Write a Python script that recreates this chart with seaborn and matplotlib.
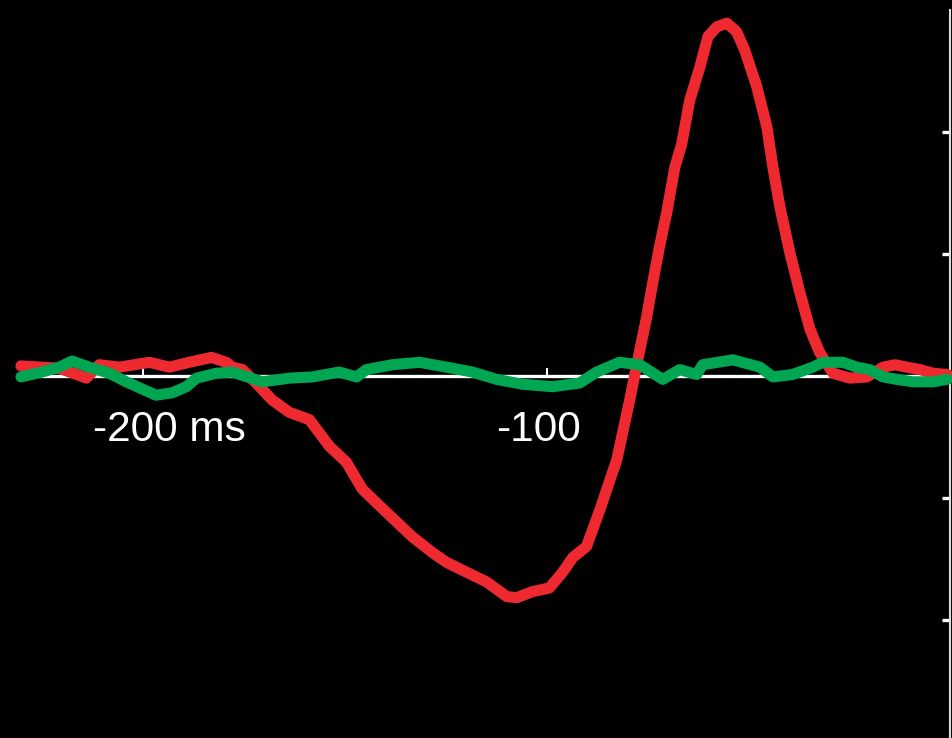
import matplotlib
matplotlib.use("Agg")
import matplotlib.pyplot as plt
import matplotlib.transforms as mtransforms
import numpy as np
import pandas as pd
import seaborn as sns

# ---- data ----
red_t = [-230.3, -225.1, -220.8, -216.5, -214.1, -210.9, -205.9, -198.5, -193.5, -188.6,
         -183.1, -179.4, -177.9, -175.4, -172.0, -168.0, -163.8, -158.8, -153.8, -149.6,
         -145.7, -139.7, -133.3, -128.3, -124.8, -119.9, -114.9, -109.9, -107.4, -103.5,
         -99.3, -96.0, -93.5, -90.1, -86.8, -82.6, -79.4, -77.4, -75.2, -73.7,
         -72.0, -70.2, -68.2, -66.5, -64.5, -62.0, -60.0, -57.8, -55.3,
         -52.9, -50.9, -47.9, -45.4, -43.9, -42.2, -39.7, -37.2, -34.7, -32.3,
         -29.0, -24.8, -20.6, -16.6, -13.6, -10.7, -7.4, -4.2, -0.7]
red_v = [0.08, 0.07, 0.06, 0.01, -0.02, 0.09, 0.07, 0.11, 0.07, 0.11,
         0.15, 0.11, 0.07, 0.05, -0.06, -0.20, -0.30, -0.36, -0.58, -0.71,
         -0.93, -1.12, -1.32, -1.45, -1.53, -1.61, -1.69, -1.81, -1.82, -1.77,
         -1.74, -1.61, -1.49, -1.40, -1.10, -0.69, -0.20, 0.13, 0.48, 0.76,
         1.06, 1.34, 1.71, 1.90, 2.26, 2.53, 2.78, 2.86, 2.89,
         2.82, 2.67, 2.37, 2.04, 1.71, 1.39, 1.01, 0.68, 0.38, 0.19,
         0.02, -0.02, -0.01, 0.07, 0.09, 0.07, 0.05, 0.02, 0.01]

green_t = [-230.3, -225.1, -220.8, -217.6, -213.4, -208.4, -204.2, -200.2, -196.8, -192.8,
           -189.3, -186.8, -181.9, -177.9, -170.5, -163.8, -158.1, -151.4, -147.1, -144.7,
           -138.2, -131.5, -124.8, -118.4, -112.4, -106.0, -98.5, -91.8, -87.6, -81.9,
           -76.9, -71.2, -67.0, -62.8, -61.3, -53.8, -47.1, -43.9, -39.0, -34.0,
           -31.5, -26.6, -23.1, -19.9, -16.6, -13.2, -9.2, -4.2, -0.7]
green_v = [-0.01, 0.03, 0.07, 0.12, 0.07, 0.02, -0.05, -0.11, -0.16, -0.14,
           -0.09, -0.02, 0.02, 0.03, -0.05, -0.02, -0.01, 0.03, -0.01, 0.05,
           0.09, 0.11, 0.07, 0.03, -0.03, -0.07, -0.09, -0.06, 0.03, 0.11,
           0.09, -0.03, 0.05, 0.01, 0.09, 0.13, 0.07, -0.01, 0.01, 0.07,
           0.11, 0.11, 0.07, 0.05, -0.01, -0.03, -0.05, -0.05, -0.03]

xtick_vals = [-200, -100]
xtick_labels = ["-200 ms", "-100"]
ytick_vals = [-2, -1, 1, 2]

RED = "#EE2A30"
GREEN = "#00A651"

sns.set_style("dark", {"axes.facecolor": "black", "figure.facecolor": "black"})
plt.rcParams["font.family"] = ["Liberation Sans", "DejaVu Sans"]

fig = plt.figure(figsize=(9.52, 7.38), dpi=100, facecolor="black")
ax = fig.add_axes([0, 0, 1, 1])
ax.set_facecolor("black")

red_df = pd.DataFrame({"t": red_t, "v": red_v})
green_df = pd.DataFrame({"t": green_t, "v": green_v})

line_kw = dict(linewidth=8.0, solid_capstyle="round", solid_joinstyle="round")
sns.lineplot(data=red_df, x="t", y="v", color=RED, ax=ax, zorder=3, **line_kw)
sns.lineplot(data=green_df, x="t", y="v", color=GREEN, ax=ax, zorder=4, **line_kw)

ax.set_xlim(-235.5, 0.5)
ax.set_ylim(-2.97, 3.08)
ax.grid(False)
ax.set_xlabel("")
ax.set_ylabel("")

for s in ["top", "left"]:
    ax.spines[s].set_visible(False)
ax.spines["bottom"].set_position(("data", 0))
ax.spines["bottom"].set_bounds(-230.3, 0)
ax.spines["bottom"].set_color("white")
ax.spines["bottom"].set_linewidth(2.4)
ax.spines["bottom"].set_zorder(2)
ax.spines["right"].set_position(("data", 0))
ax.spines["right"].set_bounds(-2.97, 3.0)
ax.spines["right"].set_color("#dddddd")
ax.spines["right"].set_linewidth(1.5)
ax.spines["right"].set_visible(True)

ax.set_xticks(xtick_vals, xtick_labels)
ax.tick_params(axis="x", direction="in", length=6, width=1.5, color="white",
               labelcolor="white", labelsize=30.5, pad=25, bottom=True)
ax.yaxis.set_ticks_position("right")
ax.set_yticks(ytick_vals)
ax.tick_params(axis="y", direction="in", length=6, width=2.4, color="white",
               labelright=False, labelleft=False, right=True, left=False)

# shift the "-200 ms" label so that "-200" sits under its tick
labs = ax.get_xticklabels()
offs = [mtransforms.ScaledTranslation(-50 / 100, 0, fig.dpi_scale_trans),
        mtransforms.ScaledTranslation(-8 / 100, 0, fig.dpi_scale_trans)]
for lab, off in zip(labs, offs):
    lab.set_horizontalalignment("left" if lab.get_text().endswith("ms") else "center")
    lab.set_transform(lab.get_transform() + off)

fig.savefig("out.png", dpi=100, facecolor="black")
